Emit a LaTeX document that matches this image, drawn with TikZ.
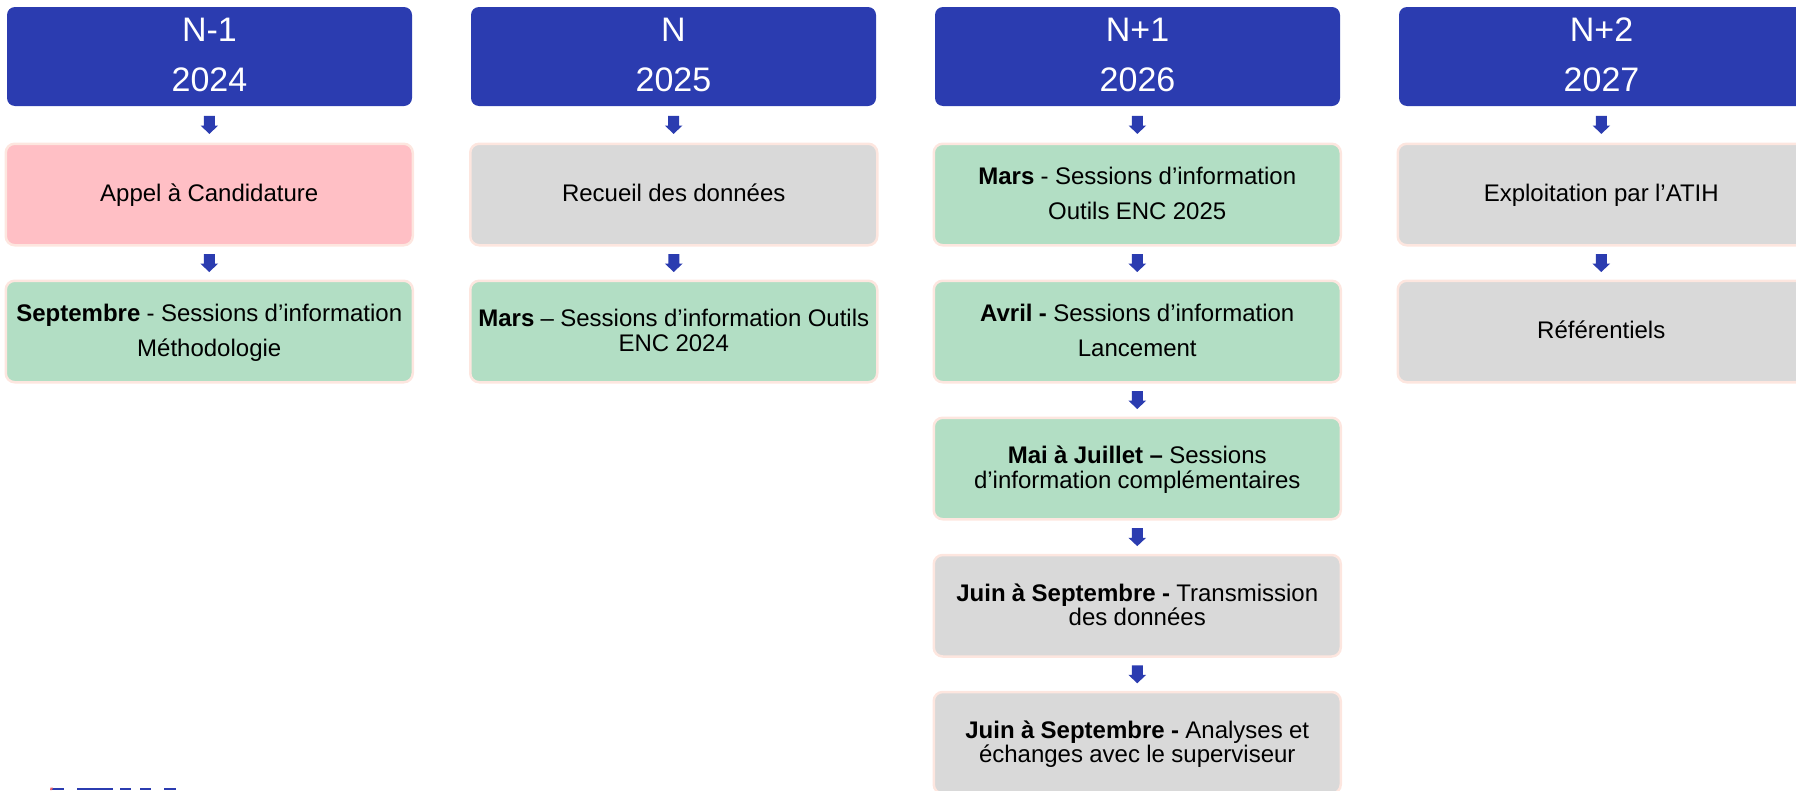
\documentclass[tikz,border=0pt]{standalone}
\usepackage{fontspec}
\setmainfont[WordSpace=0.95]{Liberation Sans}
\definecolor{hdr}{HTML}{2B3CB0}
\definecolor{halo}{HTML}{FDE6DF}
\definecolor{pinkb}{HTML}{FFBFC5}
\definecolor{greenb}{HTML}{B2DEC4}
\definecolor{greyb}{HTML}{D9D9D9}
\definecolor{logored}{HTML}{E8606A}
\tikzset{x=1pt,y=-1pt,
  hdrbox/.style={draw=none,fill=hdr,rounded corners=8pt,minimum width=405pt,minimum height=99pt,inner sep=0pt,outer sep=0pt,anchor=north west,text=white},
  card/.style={draw=halo,line width=2.5pt,rounded corners=9pt,minimum width=407pt,minimum height=101.5pt,inner sep=0pt,outer sep=0pt,anchor=north west,text=black},
  pinkcard/.style={card,fill=pinkb},
  greencard/.style={card,fill=greenb},
  greycard/.style={card,fill=greyb},
  flow/.style={draw=none,fill=hdr},
  logobit/.style={draw=none,fill=hdr},
}
% #1 size, #2 leading, #3 first baseline below the node centre, #4 text
\newcommand{\lines}[4]{\raisebox{-#3pt}[0pt][0pt]{\parbox[t]{403pt}{\centering\fontsize{#1}{#2}\selectfont #4}}}
\newcommand{\one}[1]{\lines{24}{35}{7.1}{#1}}
\newcommand{\wide}[1]{\lines{24}{34.5}{-9.9}{#1}}
\newcommand{\tight}[1]{\lines{24}{24.7}{-4.7}{#1}}
\newcommand{\head}[1]{\lines{34}{50}{-14.8}{#1}}
\newcommand{\downarrowbetween}[2]{%
  \path (#1.south) -- (#2.north) coordinate[midway] (m);
  \fill[flow] ([shift={(-5.5pt,9pt)}]m) -- ([shift={(5.5pt,9pt)}]m) -- ([shift={(5.5pt,-0.7pt)}]m) -- ([shift={(8.8pt,-0.7pt)}]m) -- ([shift={(0pt,-9pt)}]m) -- ([shift={(-8.8pt,-0.7pt)}]m) -- ([shift={(-5.5pt,-0.7pt)}]m) -- cycle;
}
\begin{document}
\begin{tikzpicture}
\useasboundingbox (0,0) rectangle (1796,790);
\clip (0,0) rectangle (1796,790);
\node[hdrbox] (h1) at (7,7) {\head{N-1\\2024}};
\node[hdrbox] (h2) at (471,7) {\head{N\\2025}};
\node[hdrbox] (h3) at (935,7) {\head{N+1\\2026}};
\node[hdrbox] (h4) at (1399,7) {\head{N+2\\2027}};
\node[pinkcard] (a1) at (5.75,143.75) {\one{Appel à Candidature}};
\node[greencard] (a2) at (5.75,280.75) {\wide{\textbf{Septembre} - Sessions d’information\\Méthodologie}};
\node[greycard] (b1) at (470.25,143.75) {\one{Recueil des données}};
\node[greencard] (b2) at (470.25,280.75) {\tight{\textbf{Mars} – Sessions d’information Outils\\ENC 2024}};
\node[greencard] (c1) at (933.75,143.75) {\wide{\textbf{Mars} - Sessions d’information\\Outils ENC 2025}};
\node[greencard] (c2) at (933.75,280.75) {\wide{\textbf{Avril -} Sessions d’information\\Lancement}};
\node[greencard] (c3) at (933.75,417.75) {\tight{\textbf{Mai à Juillet –} Sessions\\d’information complémentaires}};
\node[greycard] (c4) at (933.75,555) {\tight{\textbf{Juin à Septembre -} Transmission\\des données}};
\node[greycard] (c5) at (933.75,692) {\tight{\textbf{Juin à Septembre -} Analyses et\\échanges avec le superviseur}};
\node[greycard] (d1) at (1397.75,143.75) {\one{Exploitation par l’ATIH}};
\node[greycard] (d2) at (1397.75,280.75) {\one{Référentiels}};
\downarrowbetween{h1}{a1}\downarrowbetween{a1}{a2}
\downarrowbetween{h2}{b1}\downarrowbetween{b1}{b2}
\downarrowbetween{h3}{c1}\downarrowbetween{c1}{c2}\downarrowbetween{c2}{c3}\downarrowbetween{c3}{c4}\downarrowbetween{c4}{c5}
\downarrowbetween{h4}{d1}\downarrowbetween{d1}{d2}
% top edge of the logo, cut off by the page
\fill[logobit] (51,787.5) rectangle (64,790);
\fill[logored] (50,790) -- (50.5,787.5) -- (53,787.5) -- (52,790) -- cycle;
\fill[logobit] (76.7,787.5) rectangle (112.7,790);
\fill[logobit] (120,787.5) rectangle (131,790);
\fill[logobit] (140,787.5) rectangle (151,790);
\fill[logobit] (164.3,787.5) rectangle (176,790);
\end{tikzpicture}
\end{document}
